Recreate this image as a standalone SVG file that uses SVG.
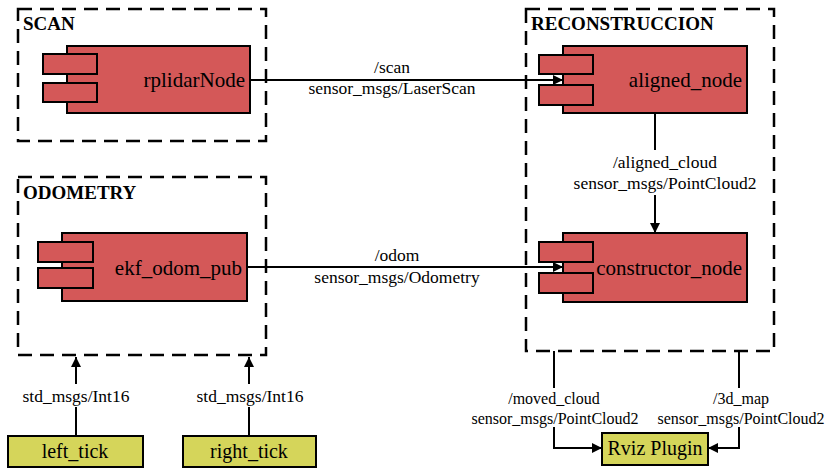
<svg xmlns="http://www.w3.org/2000/svg" width="828" height="471" viewBox="0 0 828 471">
<style>
  text { font-family: 'Liberation Serif', 'Times New Roman', Times, serif; fill: #000; }
  .grp { fill: none; stroke: #000; stroke-width: 2.5; stroke-dasharray: 14 8; }
  .title { font-weight: bold; font-size: 19px; }
  .comp { fill: #d45858; stroke: #000; stroke-width: 2; }
  .src { fill: #d5d55a; stroke: #000; stroke-width: 2; }
  .ntext { font-size: 21px; text-anchor: end; }
  .btext { font-size: 20px; text-anchor: middle; }
  .lbl { font-size: 17.5px; text-anchor: middle; }
  .lbls { font-size: 16px; text-anchor: middle; }
  .edge { fill: none; stroke: #000; stroke-width: 2; }
</style>
<defs>
  <marker id="arr" viewBox="0 0 10 10" refX="10" refY="5" markerWidth="5" markerHeight="5" orient="auto" markerUnits="strokeWidth">
    <path d="M0,0 L10,5 L0,10 z" fill="#000"/>
  </marker>
</defs>
<rect width="828" height="471" fill="#fff"/>

<g id="scan">
  <rect class="grp" x="18" y="9" width="248" height="132"/>
  <text class="title" x="23" y="30" font-family="Liberation Serif, serif">SCAN</text>
</g>
<g id="odometry">
  <rect class="grp" x="18" y="177" width="248" height="178"/>
  <text class="title" x="23" y="199" font-family="Liberation Serif, serif">ODOMETRY</text>
</g>
<g id="reconstruccion">
  <rect class="grp" x="526" y="9" width="248" height="342"/>
  <text class="title" x="531" y="30" font-family="Liberation Serif, serif">RECONSTRUCCION</text>
</g>

<g id="rplidarNode">
  <rect class="comp" x="67" y="46" width="183" height="67"/>
  <rect class="comp" x="43" y="54" width="54" height="20"/>
  <rect class="comp" x="43" y="83" width="54" height="19"/>
  <text class="ntext" x="245" y="87" font-family="Liberation Serif, serif">rplidarNode</text>
</g>
<g id="aligned_node">
  <rect class="comp" x="563" y="46" width="184" height="67"/>
  <rect class="comp" x="539" y="55" width="54" height="19"/>
  <rect class="comp" x="539" y="85" width="54" height="20"/>
  <text class="ntext" x="742" y="87" font-family="Liberation Serif, serif">aligned_node</text>
</g>
<g id="ekf_odom_pub">
  <rect class="comp" x="62" y="233" width="185" height="68"/>
  <rect class="comp" x="38" y="242" width="55" height="20"/>
  <rect class="comp" x="38" y="268" width="55" height="20"/>
  <text class="ntext" x="242" y="275" font-family="Liberation Serif, serif">ekf_odom_pub</text>
</g>
<g id="constructor_node">
  <rect class="comp" x="563" y="233" width="184" height="69"/>
  <rect class="comp" x="539" y="242" width="54" height="20"/>
  <rect class="comp" x="539" y="273" width="54" height="20"/>
  <text class="ntext" x="742" y="275" font-family="Liberation Serif, serif">constructor_node</text>
</g>
<g id="left_tick">
  <rect class="src" x="8" y="436" width="135" height="31"/>
  <text class="btext" x="75" y="458" font-family="Liberation Serif, serif">left_tick</text>
</g>
<g id="right_tick">
  <rect class="src" x="183" y="436" width="133" height="31"/>
  <text class="btext" x="249" y="458" font-family="Liberation Serif, serif">right_tick</text>
</g>
<g id="rviz_plugin">
  <rect class="src" x="602" y="433" width="106" height="32"/>
  <text class="btext" x="655" y="455" font-family="Liberation Serif, serif">Rviz Plugin</text>
</g>

<g id="connectors" font-family="Liberation Serif, serif">
  <path class="edge" d="M250,80 H563" marker-end="url(#arr)"/>
  <text class="lbl" x="392" y="73">/scan</text>
  <text class="lbl" x="392" y="94">sensor_msgs/LaserScan</text>

  <path class="edge" d="M247,267 H563" marker-end="url(#arr)"/>
  <text class="lbl" x="397" y="261">/odom</text>
  <text class="lbl" x="397" y="283">sensor_msgs/Odometry</text>

  <path class="edge" d="M655,113 V150"/>
  <path class="edge" d="M655,195 V233" marker-end="url(#arr)"/>
  <text class="lbl" x="665" y="168">/aligned_cloud</text>
  <text class="lbl" x="665" y="189">sensor_msgs/PointCloud2</text>

  <path class="edge" d="M76,436 V407"/>
  <path class="edge" d="M76,384 V357" marker-end="url(#arr)"/>
  <text class="lbl" x="76" y="402">std_msgs/Int16</text>

  <path class="edge" d="M249,436 V407"/>
  <path class="edge" d="M249,384 V357" marker-end="url(#arr)"/>
  <text class="lbl" x="250" y="402">std_msgs/Int16</text>

  <path class="edge" d="M554,351 V388"/>
  <path class="edge" d="M554,427 V448 H602" marker-end="url(#arr)"/>
  <text class="lbls" x="554" y="404">/moved_cloud</text>
  <text class="lbls" x="555" y="424">sensor_msgs/PointCloud2</text>

  <path class="edge" d="M739,351 V388"/>
  <path class="edge" d="M739,427 V448 H708" marker-end="url(#arr)"/>
  <text class="lbls" x="741" y="404">/3d_map</text>
  <text class="lbls" x="741" y="424">sensor_msgs/PointCloud2</text>
</g>
</svg>
